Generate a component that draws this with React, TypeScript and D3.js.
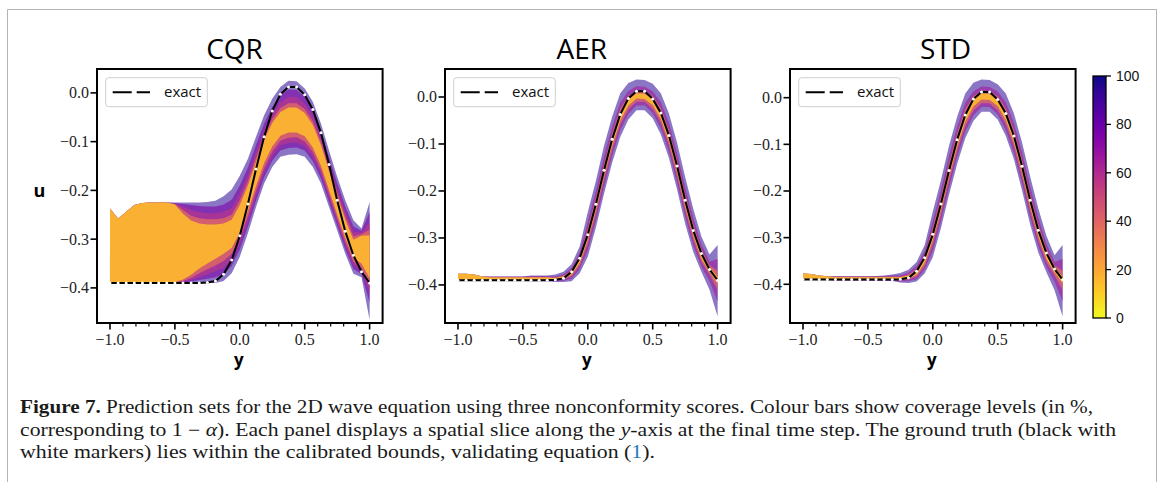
import React from 'react';
import * as d3 from 'd3';

// ---------------- data ----------------
const Y_GRID = [-1, -0.9375, -0.875, -0.8125, -0.75, -0.6875, -0.625, -0.5625, -0.5, -0.4375, -0.375, -0.3125, -0.25, -0.1875, -0.125, -0.0625, 0, 0.0625, 0.125, 0.1875, 0.25, 0.3125, 0.375, 0.4375, 0.5, 0.5625, 0.625, 0.6875, 0.75, 0.8125, 0.875, 0.9375, 1];

const EXACT = [-0.39, -0.39, -0.39, -0.39, -0.39, -0.39, -0.39, -0.39, -0.39, -0.39, -0.39, -0.39, -0.389, -0.386, -0.372, -0.343, -0.293, -0.228, -0.156, -0.09, -0.037, -0.003, 0.012, 0.012, -0.004, -0.034, -0.082, -0.147, -0.22, -0.284, -0.333, -0.367, -0.39];

// CQR coverage levels (%), outermost first
const CQR_LEVELS = [95, 75, 55, 35, 15];
const CQR_HI_95 = [-0.237, -0.258, -0.244, -0.23, -0.226, -0.225, -0.225, -0.225, -0.225, -0.225, -0.225, -0.225, -0.224, -0.221, -0.212, -0.198, -0.17, -0.135, -0.09, -0.046, -0.012, 0.012, 0.025, 0.024, 0.009, -0.018, -0.063, -0.118, -0.172, -0.22, -0.261, -0.278, -0.224];
const CQR_HI_75 = [-0.237, -0.258, -0.244, -0.23, -0.226, -0.225, -0.225, -0.225, -0.226, -0.228, -0.23, -0.232, -0.233, -0.233, -0.229, -0.219, -0.19, -0.153, -0.107, -0.063, -0.029, -0.005, 0.007, 0.006, -0.008, -0.034, -0.078, -0.132, -0.185, -0.233, -0.274, -0.283, -0.245];
const CQR_HI_55 = [-0.237, -0.258, -0.244, -0.23, -0.226, -0.225, -0.225, -0.225, -0.227, -0.233, -0.24, -0.245, -0.247, -0.247, -0.244, -0.236, -0.207, -0.169, -0.122, -0.077, -0.043, -0.019, -0.008, -0.009, -0.022, -0.047, -0.09, -0.144, -0.196, -0.244, -0.285, -0.287, -0.265];
const CQR_HI_35 = [-0.237, -0.258, -0.244, -0.23, -0.226, -0.225, -0.225, -0.225, -0.228, -0.24, -0.252, -0.257, -0.259, -0.259, -0.257, -0.25, -0.22, -0.181, -0.133, -0.088, -0.054, -0.031, -0.021, -0.021, -0.033, -0.058, -0.1, -0.153, -0.205, -0.253, -0.294, -0.29, -0.28];
const CQR_HI_15 = [-0.237, -0.258, -0.244, -0.23, -0.226, -0.225, -0.225, -0.225, -0.229, -0.248, -0.262, -0.268, -0.27, -0.27, -0.268, -0.26, -0.23, -0.19, -0.142, -0.096, -0.062, -0.039, -0.03, -0.03, -0.041, -0.066, -0.107, -0.16, -0.212, -0.26, -0.301, -0.293, -0.292];
const CQR_LO_15 = [-0.39, -0.39, -0.39, -0.39, -0.39, -0.39, -0.39, -0.39, -0.388, -0.383, -0.373, -0.36, -0.35, -0.34, -0.33, -0.318, -0.286, -0.242, -0.191, -0.144, -0.11, -0.088, -0.081, -0.081, -0.089, -0.112, -0.149, -0.199, -0.249, -0.297, -0.338, -0.35, -0.38];
const CQR_LO_35 = [-0.39, -0.39, -0.39, -0.39, -0.39, -0.39, -0.39, -0.39, -0.389, -0.386, -0.379, -0.37, -0.362, -0.354, -0.345, -0.33, -0.298, -0.253, -0.201, -0.154, -0.12, -0.098, -0.092, -0.091, -0.099, -0.121, -0.158, -0.207, -0.257, -0.305, -0.346, -0.358, -0.395];
const CQR_LO_55 = [-0.39, -0.39, -0.39, -0.39, -0.39, -0.39, -0.39, -0.39, -0.39, -0.388, -0.384, -0.378, -0.372, -0.366, -0.359, -0.342, -0.309, -0.264, -0.211, -0.164, -0.13, -0.108, -0.103, -0.102, -0.109, -0.131, -0.166, -0.215, -0.264, -0.312, -0.353, -0.365, -0.41];
const CQR_LO_75 = [-0.39, -0.39, -0.39, -0.39, -0.39, -0.39, -0.39, -0.39, -0.39, -0.389, -0.387, -0.384, -0.381, -0.378, -0.372, -0.355, -0.321, -0.274, -0.221, -0.173, -0.139, -0.118, -0.113, -0.112, -0.118, -0.14, -0.175, -0.224, -0.272, -0.32, -0.361, -0.372, -0.43];
const CQR_LO_95 = [-0.39, -0.39, -0.39, -0.39, -0.39, -0.39, -0.39, -0.39, -0.39, -0.39, -0.39, -0.39, -0.39, -0.39, -0.386, -0.37, -0.336, -0.288, -0.234, -0.186, -0.152, -0.131, -0.127, -0.126, -0.131, -0.152, -0.186, -0.234, -0.282, -0.33, -0.371, -0.378, -0.466];

// AER coverage levels (%)
const AER_LEVELS = [95, 65, 35, 15];
const AER_HI_95 = [-0.376, -0.376, -0.378, -0.382, -0.382, -0.382, -0.382, -0.382, -0.382, -0.38, -0.38, -0.38, -0.378, -0.372, -0.356, -0.318, -0.245, -0.178, -0.104, -0.042, 0.008, 0.03, 0.037, 0.036, 0.028, 0.008, -0.035, -0.097, -0.17, -0.238, -0.297, -0.335, -0.315];
const AER_HI_65 = [-0.376, -0.376, -0.378, -0.382, -0.382, -0.382, -0.382, -0.382, -0.382, -0.381, -0.381, -0.381, -0.382, -0.377, -0.364, -0.331, -0.266, -0.2, -0.126, -0.064, -0.012, 0.013, 0.023, 0.022, 0.012, -0.011, -0.056, -0.119, -0.192, -0.258, -0.314, -0.35, -0.345];
const AER_HI_35 = [-0.376, -0.376, -0.378, -0.382, -0.383, -0.383, -0.383, -0.383, -0.383, -0.383, -0.383, -0.383, -0.384, -0.38, -0.369, -0.339, -0.279, -0.214, -0.141, -0.077, -0.025, 0.002, 0.014, 0.013, 0.002, -0.024, -0.069, -0.133, -0.206, -0.271, -0.324, -0.358, -0.37];
const AER_HI_15 = [-0.376, -0.376, -0.378, -0.382, -0.384, -0.384, -0.384, -0.384, -0.384, -0.384, -0.384, -0.384, -0.385, -0.382, -0.372, -0.344, -0.288, -0.223, -0.15, -0.086, -0.034, -0.005, 0.008, 0.007, -0.005, -0.032, -0.078, -0.142, -0.215, -0.279, -0.331, -0.362, -0.383];
const AER_LO_15 = [-0.389, -0.39, -0.39, -0.39, -0.389, -0.389, -0.389, -0.389, -0.389, -0.389, -0.389, -0.389, -0.388, -0.386, -0.378, -0.353, -0.304, -0.24, -0.167, -0.103, -0.05, -0.018, -0.003, -0.004, -0.017, -0.047, -0.094, -0.159, -0.232, -0.295, -0.344, -0.372, -0.397];
const AER_LO_35 = [-0.389, -0.39, -0.39, -0.39, -0.39, -0.39, -0.39, -0.39, -0.39, -0.39, -0.39, -0.39, -0.39, -0.388, -0.382, -0.359, -0.313, -0.25, -0.177, -0.113, -0.059, -0.026, -0.01, -0.01, -0.025, -0.055, -0.103, -0.169, -0.242, -0.304, -0.351, -0.378, -0.41];
const AER_LO_65 = [-0.389, -0.39, -0.39, -0.39, -0.391, -0.391, -0.391, -0.391, -0.391, -0.391, -0.391, -0.391, -0.392, -0.391, -0.387, -0.366, -0.326, -0.263, -0.191, -0.125, -0.071, -0.036, -0.018, -0.018, -0.034, -0.067, -0.116, -0.182, -0.255, -0.316, -0.361, -0.392, -0.435];
const AER_LO_95 = [-0.389, -0.39, -0.39, -0.39, -0.391, -0.391, -0.391, -0.391, -0.391, -0.392, -0.392, -0.392, -0.394, -0.394, -0.392, -0.375, -0.34, -0.278, -0.206, -0.14, -0.085, -0.048, -0.028, -0.028, -0.045, -0.08, -0.13, -0.197, -0.27, -0.33, -0.372, -0.41, -0.467];

// STD coverage levels (%)
const STD_LEVELS = [95, 65, 35, 15];
const STD_HI_95 = [-0.377, -0.378, -0.381, -0.383, -0.383, -0.383, -0.383, -0.383, -0.383, -0.382, -0.381, -0.379, -0.376, -0.369, -0.352, -0.316, -0.244, -0.177, -0.103, -0.041, 0.009, 0.032, 0.039, 0.038, 0.029, 0.009, -0.034, -0.096, -0.169, -0.237, -0.296, -0.338, -0.316];
const STD_HI_65 = [-0.377, -0.378, -0.381, -0.383, -0.383, -0.383, -0.383, -0.383, -0.383, -0.382, -0.382, -0.381, -0.381, -0.375, -0.361, -0.329, -0.265, -0.199, -0.125, -0.063, -0.011, 0.014, 0.024, 0.023, 0.013, -0.01, -0.055, -0.118, -0.191, -0.257, -0.313, -0.352, -0.346];
const STD_HI_35 = [-0.377, -0.378, -0.381, -0.383, -0.384, -0.384, -0.384, -0.384, -0.384, -0.384, -0.384, -0.384, -0.384, -0.379, -0.367, -0.338, -0.278, -0.213, -0.14, -0.076, -0.024, 0.003, 0.015, 0.014, 0.003, -0.023, -0.068, -0.132, -0.205, -0.27, -0.323, -0.36, -0.371];
const STD_HI_15 = [-0.377, -0.378, -0.381, -0.383, -0.385, -0.385, -0.385, -0.385, -0.385, -0.385, -0.385, -0.385, -0.385, -0.381, -0.371, -0.343, -0.287, -0.222, -0.149, -0.085, -0.033, -0.004, 0.009, 0.008, -0.004, -0.031, -0.077, -0.141, -0.214, -0.278, -0.33, -0.364, -0.384];
const STD_LO_15 = [-0.39, -0.391, -0.39, -0.39, -0.39, -0.39, -0.39, -0.39, -0.39, -0.39, -0.39, -0.39, -0.389, -0.387, -0.379, -0.354, -0.305, -0.241, -0.168, -0.104, -0.051, -0.019, -0.004, -0.005, -0.018, -0.048, -0.095, -0.16, -0.233, -0.296, -0.345, -0.374, -0.398];
const STD_LO_35 = [-0.39, -0.391, -0.391, -0.391, -0.391, -0.391, -0.391, -0.391, -0.391, -0.391, -0.391, -0.391, -0.391, -0.39, -0.384, -0.361, -0.315, -0.252, -0.179, -0.115, -0.061, -0.028, -0.012, -0.012, -0.027, -0.057, -0.105, -0.171, -0.244, -0.306, -0.353, -0.381, -0.412];
const STD_LO_65 = [-0.39, -0.391, -0.391, -0.391, -0.392, -0.392, -0.392, -0.392, -0.392, -0.392, -0.392, -0.392, -0.394, -0.393, -0.389, -0.368, -0.328, -0.265, -0.193, -0.127, -0.073, -0.038, -0.02, -0.02, -0.036, -0.069, -0.118, -0.184, -0.257, -0.318, -0.363, -0.394, -0.437];
const STD_LO_95 = [-0.39, -0.391, -0.391, -0.391, -0.392, -0.392, -0.392, -0.392, -0.392, -0.393, -0.393, -0.393, -0.396, -0.397, -0.394, -0.377, -0.342, -0.28, -0.208, -0.142, -0.087, -0.05, -0.03, -0.03, -0.047, -0.082, -0.132, -0.199, -0.272, -0.332, -0.374, -0.412, -0.469];

const X_DOMAIN = [-1.1, 1.1];
const X_TICKS = [-1, -0.5, 0, 0.5, 1];
const X_MINOR = [-0.9, -0.8, -0.7, -0.6, -0.4, -0.3, -0.2, -0.1, 0.1, 0.2, 0.3, 0.4, 0.6, 0.7, 0.8, 0.9];
const Y_TICKS = [0, -0.1, -0.2, -0.3, -0.4];
const CBAR_TICKS = [0, 20, 40, 60, 80, 100];
const TITLES = ['CQR', 'AER', 'STD'];
const LEGEND_LABEL = 'exact';

// ---------------- layout ----------------
const W = 1167;
const H = 482;
const AX_TOP = 69;
const AX_BOTTOM = 323;
const AX_W = 285.6;

const PANELS = [
  { title: TITLES[0], left: 97, titleX: 234.5, yDomain: [-0.472, 0.049], levels: CQR_LEVELS,
    hi: [CQR_HI_95, CQR_HI_75, CQR_HI_55, CQR_HI_35, CQR_HI_15],
    lo: [CQR_LO_95, CQR_LO_75, CQR_LO_55, CQR_LO_35, CQR_LO_15], ylabel: true },
  { title: TITLES[1], left: 445, titleX: 581.7, yDomain: [-0.481, 0.0596], levels: AER_LEVELS,
    hi: [AER_HI_95, AER_HI_65, AER_HI_35, AER_HI_15],
    lo: [AER_LO_95, AER_LO_65, AER_LO_35, AER_LO_15], ylabel: false },
  { title: TITLES[2], left: 790, titleX: 945.5, yDomain: [-0.483, 0.0615], levels: STD_LEVELS,
    hi: [STD_HI_95, STD_HI_65, STD_HI_35, STD_HI_15],
    lo: [STD_LO_95, STD_LO_65, STD_LO_35, STD_LO_15], ylabel: false },
];

const fmt = d3.format('.1f');
const levelColor = (lv: number) => d3.interpolatePlasma(1 - lv / 100);
const bandOpacity = (i: number, n: number) => (i === n - 1 ? 0.9 : i === n - 2 ? 0.65 : i === 0 ? 0.55 : 0.6);

function Panel({ p, idx }: { p: any; idx: number }) {
  const x = d3.scaleLinear().domain(X_DOMAIN).range([p.left, p.left + AX_W]);
  const y = d3.scaleLinear().domain(p.yDomain).range([AX_BOTTOM, AX_TOP]);
  const indices = d3.range(Y_GRID.length);
  const clipId = `clip-${idx}`;
  const line = d3.line<number>().x((i) => x(Y_GRID[i])).y((i) => y(EXACT[i]));
  const n = p.levels.length;
  const lgX = p.left + 8.7;
  const lgY = 77.7;
  return (
    <g>
      <defs>
        <clipPath id={clipId}>
          <rect x={p.left} y={AX_TOP} width={AX_W} height={AX_BOTTOM - AX_TOP} />
        </clipPath>
      </defs>
      <text x={p.titleX} y={59} textAnchor="middle" fontFamily="'Open Sans', sans-serif" fontSize={28} fill="#000">
        {p.title}
      </text>
      <g clipPath={`url(#${clipId})`}>
        {p.levels.map((lv: number, i: number) => {
          const area = d3
            .area<number>()
            .x((k) => x(Y_GRID[k]))
            .y0((k) => y(p.lo[i][k]))
            .y1((k) => y(p.hi[i][k]));
          return (
            <path key={lv} d={area(indices) || ''} fill={levelColor(lv)} fillOpacity={bandOpacity(i, n)} stroke="none" />
          );
        })}
        <path d={line(indices) || ''} fill="none" stroke="#000" strokeWidth={2} />
        {indices.map((k) => (
          <circle key={k} cx={x(Y_GRID[k])} cy={y(EXACT[k])} r={1.5} fill="#fff" />
        ))}
      </g>
      {/* frame */}
      <rect x={p.left} y={AX_TOP} width={AX_W} height={AX_BOTTOM - AX_TOP} fill="none" stroke="#000" strokeWidth={2} />
      {/* x ticks */}
      {X_TICKS.map((t) => (
        <g key={`xt${t}`}>
          <line x1={x(t)} x2={x(t)} y1={AX_BOTTOM} y2={AX_BOTTOM + 6.5} stroke="#000" strokeWidth={1.6} />
          <text x={x(t)} y={AX_BOTTOM + 21.5} textAnchor="middle" fontFamily="'Liberation Serif', serif" fontSize={16} fill="#222">
            {fmt(t)}
          </text>
        </g>
      ))}
      {X_MINOR.map((t) => (
        <line key={`xm${t}`} x1={x(t)} x2={x(t)} y1={AX_BOTTOM} y2={AX_BOTTOM + 3.5} stroke="#000" strokeWidth={1.2} />
      ))}
      {/* y ticks */}
      {Y_TICKS.map((t) => (
        <g key={`yt${t}`}>
          <line x1={p.left - 6.5} x2={p.left} y1={y(t)} y2={y(t)} stroke="#000" strokeWidth={1.6} />
          <text x={p.left - 8} y={y(t)} dy="0.34em" textAnchor="end" fontFamily="'Liberation Serif', serif" fontSize={16} fill="#222">
            {fmt(t)}
          </text>
        </g>
      ))}
      {/* axis labels */}
      <text x={p.left + AX_W / 2 - 1} y={366} textAnchor="middle" fontFamily="'Open Sans', sans-serif" fontWeight={700} fontSize={17} fill="#000">
        y
      </text>
      {p.ylabel && (
        <text x={39.5} y={197} textAnchor="middle" fontFamily="'Open Sans', sans-serif" fontWeight={700} fontSize={18} fill="#000">
          u
        </text>
      )}
      {/* legend */}
      <rect x={lgX} y={lgY} width={101.6} height={29} rx={3} fill="#fff" fillOpacity={0.8} stroke="#cfcfcf" strokeWidth={1} />
      <line x1={lgX + 7} x2={lgX + 44.3} y1={lgY + 14.6} y2={lgY + 14.6} stroke="#000" strokeWidth={2} strokeDasharray="19,5" />
      <text x={lgX + 58.3} y={lgY + 19.6} fontFamily="'Open Sans', sans-serif" fontSize={15} fill="#111">
        {LEGEND_LABEL}
      </text>
    </g>
  );
}

function Colorbar() {
  const cb = { x: 1093, y0: 76, y1: 318, w: 13 };
  const s = d3.scaleLinear().domain([0, 100]).range([cb.y1, cb.y0]);
  const stops = d3.range(0, 1.0001, 0.05);
  return (
    <g>
      <defs>
        <linearGradient id="cbgrad" x1="0" y1="1" x2="0" y2="0">
          {stops.map((t) => (
            <stop key={t} offset={`${t * 100}%`} stopColor={d3.interpolatePlasma(1 - t)} />
          ))}
        </linearGradient>
      </defs>
      <rect x={cb.x} y={cb.y0} width={cb.w} height={cb.y1 - cb.y0} fill="url(#cbgrad)" stroke="#000" strokeWidth={1.3} />
      {CBAR_TICKS.map((t) => (
        <g key={t}>
          <line x1={cb.x + cb.w} x2={cb.x + cb.w + 5} y1={s(t)} y2={s(t)} stroke="#000" strokeWidth={1.3} />
          <text x={cb.x + cb.w + 10} y={s(t)} dy="0.35em" fontFamily="'Liberation Sans', Arial, sans-serif" fontSize={14} fill="#111">
            {t}
          </text>
        </g>
      ))}
    </g>
  );
}

function Caption() {
  const ff = "'Liberation Serif', 'Times New Roman', serif";
  return (
    <g fontFamily={ff} fontSize={18} fill="#1a1a1a">
      <text x={20} y={413} textLength={1073} lengthAdjust="spacingAndGlyphs">
        <tspan fontWeight="bold">Figure 7.</tspan> Prediction sets for the 2D wave equation using three nonconformity scores. Colour bars show coverage levels (in %,
      </text>
      <text x={20} y={436} textLength={1096} lengthAdjust="spacingAndGlyphs">
        corresponding to 1 − <tspan fontStyle="italic">α</tspan>). Each panel displays a spatial slice along the <tspan fontStyle="italic">y</tspan>-axis at the final time step. The ground truth (black with
      </text>
      <text x={20} y={458} textLength={635} lengthAdjust="spacingAndGlyphs">
        white markers) lies within the calibrated bounds, validating equation (<tspan fill="#1f7ab8">1</tspan>).
      </text>
    </g>
  );
}

export default function App() {
  return (
    <svg width={W} height={H} viewBox={`0 0 ${W} ${H}`} style={{ position: 'absolute', left: 0, top: 0, background: '#fff' }}>
      <rect x={0} y={0} width={W} height={H} fill="#fff" />
      <path d={`M7.5,${H} V9.5 H1156.5 V${H}`} fill="none" stroke="#b4b4b4" strokeWidth={1} />
      {PANELS.map((p, i) => (
        <Panel key={p.title} p={p} idx={i} />
      ))}
      <Colorbar />
      <Caption />
    </svg>
  );
}
